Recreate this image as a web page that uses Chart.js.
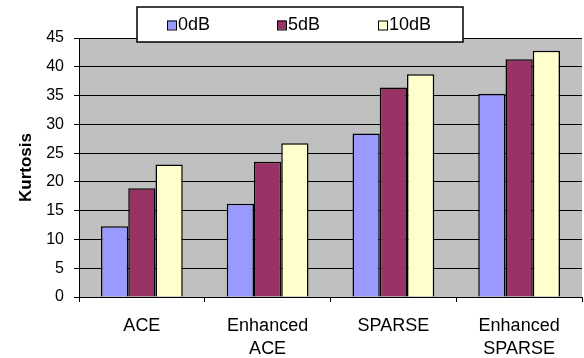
<!DOCTYPE html>
<html>
<head>
<meta charset="utf-8">
<script src="https://cdn.jsdelivr.net/npm/chart.js@4/dist/chart.umd.min.js"></script>
<style>
  html, body { margin: 0; padding: 0; background: #fff; }
  #wrap { width: 584px; height: 358px; position: relative; }
</style>
</head>
<body>
<div id="wrap"><canvas id="c" width="584" height="358"></canvas></div>
<script>
// Kurtosis per method at three SNR levels
const categories = [['ACE'], ['Enhanced', 'ACE'], ['SPARSE'], ['Enhanced', 'SPARSE']];
const seriesNames = ['0dB', '5dB', '10dB'];
const kurt0dB = [12.3, 16.2, 28.4, 35.3];
const kurt5dB = [18.9, 23.5, 36.4, 41.3];
const kurt10dB = [23.0, 26.7, 38.7, 42.8];
const yTicks = [0, 5, 10, 15, 20, 25, 30, 35, 40, 45];

const FONT = '"Liberation Sans", Arial, sans-serif';
const colors = ['#9999FF', '#993366', '#FFFFCC'];

// grey plot background
const plotBg = {
  id: 'plotBg',
  beforeDraw(chart) {
    const { ctx, chartArea: a } = chart;
    ctx.save();
    ctx.fillStyle = '#C0C0C0';
    ctx.fillRect(a.left, a.top, a.right - a.left, a.bottom - a.top);
    ctx.restore();
  }
};

// boxed legend across the top
const boxLegend = {
  id: 'boxLegend',
  afterDraw(chart) {
    const { ctx } = chart;
    const x0 = 137, y0 = 7, w = 326, h = 35;
    ctx.save();
    ctx.fillStyle = '#fff';
    ctx.fillRect(x0, y0, w, h);
    ctx.strokeStyle = '#000';
    ctx.lineWidth = 1.5;
    ctx.strokeRect(x0, y0, w, h);
    const itemX = [167, 277, 378];
    ctx.font = '18px ' + FONT;
    ctx.textBaseline = 'middle';
    chart.data.datasets.forEach((ds, i) => {
      const cy = y0 + h / 2;
      ctx.fillStyle = ds.backgroundColor;
      ctx.fillRect(itemX[i], cy - 4, 9, 9);
      ctx.strokeStyle = '#000';
      ctx.lineWidth = 1;
      ctx.strokeRect(itemX[i] + 0.5, cy - 3.5, 9, 9);
      ctx.fillStyle = '#000';
      ctx.fillText(ds.label, itemX[i] + 11, cy + 1);
    });
    ctx.restore();
  }
};

new Chart(document.getElementById('c'), {
  type: 'bar',
  data: {
    labels: categories,
    datasets: [kurt0dB, kurt5dB, kurt10dB].map((vals, i) => ({
      label: seriesNames[i],
      data: vals,
      backgroundColor: colors[i],
      borderColor: '#000',
      borderWidth: 1.5,
      barPercentage: 1.0,
      categoryPercentage: 0.65
    }))
  },
  options: {
    responsive: false,
    animation: false,
    devicePixelRatio: 1,
    layout: { padding: { top: 38, right: 2, left: 16, bottom: 0 } },
    plugins: { legend: { display: false }, tooltip: { enabled: false } },
    scales: {
      x: {
        grid: { drawOnChartArea: false, drawTicks: true, tickLength: 5, color: '#000', offset: true },
        border: { color: '#000', width: 1 },
        ticks: { color: '#000', font: { family: FONT, size: 18, lineHeight: 1.3 }, padding: 12, maxRotation: 0, autoSkip: false },
        afterFit(scale) { scale.height = 61; }
      },
      y: {
        min: 0, max: 45,
        afterBuildTicks(scale) { scale.ticks = yTicks.map(v => ({ value: v })); },
        grid: { color: '#000', lineWidth: 1, drawTicks: true, tickLength: 5 },
        border: { color: '#000', width: 1 },
        ticks: { color: '#000', font: { family: FONT, size: 16 }, padding: 10 },
        title: { display: true, text: 'Kurtosis', color: '#000', font: { family: FONT, size: 17, weight: 'bold' }, padding: 0 },
        afterFit(scale) { scale.width = 63; }
      }
    }
  },
  plugins: [plotBg, boxLegend]
});
</script>
</body>
</html>
